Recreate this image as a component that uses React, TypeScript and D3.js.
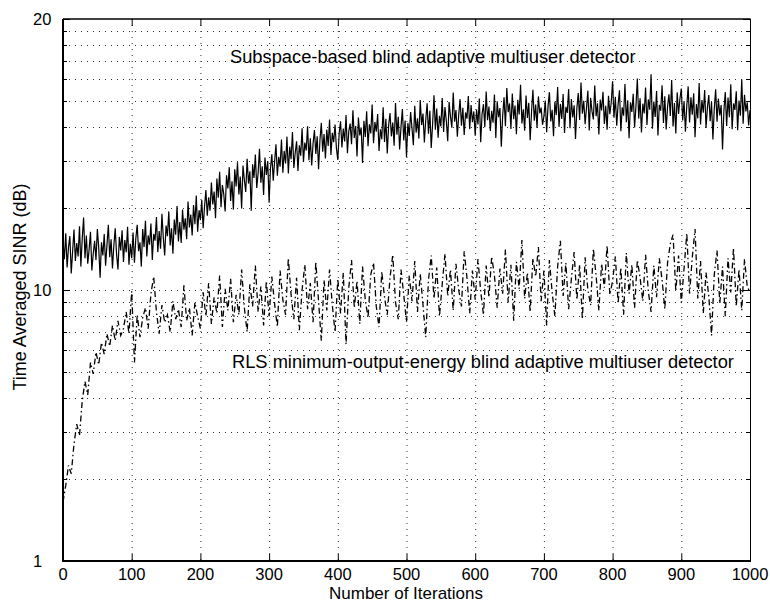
import React from "react";
import * as d3 from "d3";

// ---------- data ----------
// subspace detector: sampled every 2 iterations
const subspaceIter: number[] = d3.range(0, 1001, 2);
const subspaceSINR: number[] = [
  15.1, 13.0, 16.2, 12.1, 14.4, 15.8, 11.5, 13.9, 16.7, 12.8, 14.9, 13.3, 17.2, 12.2, 15.5, 18.5, 13.1, 15.9, 12.5, 14.1, 16.4, 11.8, 13.6, 15.2, 12.9, 16.8, 14.3, 11.1, 15.0, 13.4, 16.1, 12.3, 14.7, 17.4, 13.2, 15.4, 12.0, 14.6, 16.9, 13.5, 11.9, 15.7, 14.0, 16.6, 12.7, 15.3, 13.8, 17.1, 12.4, 14.8,
  13.1, 16.3, 12.6, 15.5, 17.4, 13.9, 15.0, 12.2, 16.8, 14.4, 18.0, 13.3, 15.9, 14.7, 17.6, 12.9, 16.1, 15.2, 18.6, 13.8, 16.5, 14.2, 19.1, 15.6, 13.4, 17.3, 15.8, 19.5, 14.6, 16.9, 13.6, 18.2, 16.0, 20.4, 15.1, 17.8, 14.9, 19.8, 16.7, 18.4, 15.4, 21.2, 17.0, 19.0, 15.9, 20.6, 17.5, 22.3, 16.4, 19.7,
  18.1, 21.5, 16.9, 20.3, 23.4, 18.8, 22.0, 19.6, 24.9, 20.7, 23.1, 18.4, 25.8, 21.9, 27.3, 20.2, 24.4, 22.6, 19.5, 26.5, 23.7, 28.4, 21.3, 25.2, 19.8, 27.9, 24.1, 29.6, 22.5, 26.2, 20.0, 28.8, 25.4, 23.0, 30.5, 24.7, 27.4, 19.6, 29.1, 25.9, 31.6, 23.8, 27.0, 33.2, 24.9, 28.6, 22.4, 30.8, 26.6, 29.9,
  21.0, 28.1, 31.7, 25.3, 29.8, 34.5, 26.4, 31.0, 28.5, 35.9, 27.1, 32.6, 29.3, 36.8, 26.9, 33.8, 30.4, 38.3, 28.2, 32.1, 35.4, 27.5, 34.2, 31.3, 39.5, 29.7, 35.0, 32.7, 40.2, 30.1, 36.3, 28.8, 34.7, 38.9, 31.8, 36.9, 27.9, 35.7, 41.4, 32.4, 37.6, 30.6, 39.1, 34.0, 42.6, 31.5, 38.0, 35.1, 40.8, 33.3,
  30.2, 37.9, 41.9, 33.6, 39.4, 35.3, 44.2, 32.0, 38.6, 41.1, 34.5, 46.0, 36.4, 40.3, 31.1, 43.3, 37.2, 39.8, 29.4, 42.1, 36.7, 45.7, 33.9, 40.9, 37.8, 48.4, 34.8, 41.7, 38.4, 44.6, 32.6, 39.2, 36.0, 47.2, 35.2, 42.8, 31.9, 40.5, 45.0, 36.9, 41.5, 34.1, 49.0, 37.4, 43.6, 33.0, 40.0, 46.5, 35.6, 42.2,
  30.9, 41.3, 37.0, 45.4, 39.5, 34.2, 47.8, 38.1, 43.0, 36.2, 50.2, 40.6, 44.8, 35.0, 42.5, 48.9, 37.7, 45.9, 33.4, 41.0, 52.3, 39.0, 46.7, 36.5, 43.9, 40.1, 51.1, 38.3, 47.3, 42.0, 35.4, 49.4, 43.7, 39.7, 53.5, 41.8, 46.1, 36.8, 44.3, 50.6, 40.4, 47.0, 37.3, 45.2, 42.9, 52.0, 39.2, 48.1, 41.6, 45.6,
  37.1, 46.3, 40.8, 50.9, 35.1, 44.6, 48.5, 39.9, 54.0, 42.3, 47.5, 38.6, 45.8, 41.4, 52.6, 36.4, 49.7, 43.4, 46.9, 33.8, 44.1, 51.4, 40.2, 55.6, 45.3, 48.8, 39.3, 53.1, 42.7, 47.9, 37.6, 50.3, 44.4, 57.2, 41.2, 46.4, 38.7, 52.2, 43.1, 49.1, 35.7, 45.5, 54.8, 42.1, 48.3, 39.6, 51.8, 44.9, 47.1, 40.7,
  43.6, 50.0, 38.2, 47.6, 53.7, 41.9, 46.2, 36.9, 49.5, 44.2, 56.1, 40.0, 48.6, 42.8, 52.9, 38.0, 47.4, 45.0, 55.1, 39.5, 50.7, 43.3, 48.0, 36.1, 46.8, 53.3, 42.4, 58.3, 44.7, 49.9, 40.9, 47.0, 54.4, 38.8, 51.2, 45.7, 42.6, 56.8, 43.8, 48.9, 37.5, 50.4, 46.0, 53.9, 41.0, 47.8, 39.0, 52.1, 44.5, 49.2,
  58.9, 43.2, 51.6, 40.4, 48.4, 54.6, 38.5, 47.2, 44.0, 57.6, 41.6, 50.1, 36.3, 49.3, 45.4, 53.0, 39.8, 47.7, 60.3, 42.9, 51.0, 38.1, 48.7, 44.8, 55.9, 40.6, 50.5, 46.3, 62.5, 39.4, 49.6, 43.5, 54.2, 37.2, 48.2, 45.9, 57.0, 41.3, 51.9, 39.1, 47.5, 52.7, 43.9, 59.5, 40.1, 49.0, 37.8, 53.6, 44.6, 50.8,
  55.4, 42.2, 49.8, 38.4, 47.9, 56.4, 41.5, 51.4, 44.3, 53.2, 36.6, 48.5, 43.0, 58.0, 40.8, 50.2, 45.1, 54.7, 39.6, 47.1, 52.4, 42.0, 49.4, 35.9, 46.6, 55.0, 41.8, 50.9, 44.1, 48.1, 33.0, 45.8, 53.8, 40.3, 51.3, 43.4, 57.4, 39.2, 48.8, 46.2, 54.1, 38.9, 50.0, 44.0, 59.8, 41.1, 52.5, 45.6, 49.3, 40.5, 46.1,
];

// RLS minimum-output-energy detector: sampled every 4 iterations
const rlsIter: number[] = d3.range(0, 1001, 4);
const rlsSINR: number[] = [
  1.65, 1.9, 2.25, 2.1, 2.7, 3.2, 2.9, 3.9, 4.6, 4.1, 5.4, 4.9, 5.9, 5.3, 6.4, 5.8, 6.9, 6.2, 7.4, 6.5, 7.7, 6.8, 7.2, 8.3, 6.9,
  9.9, 5.4, 8.1, 6.7, 7.9, 8.6, 7.2, 9.7, 11.2, 8.3, 6.9, 8.8, 7.6, 8.1, 7.0, 9.1, 7.8, 8.5, 7.3, 10.4, 7.7, 8.6, 6.8, 9.0, 8.0,
  7.2, 9.8, 8.0, 10.6, 7.5, 9.4, 8.2, 11.3, 7.3, 10.1, 8.4, 11.0, 7.6, 9.6, 8.1, 11.9, 8.6, 7.0, 10.5, 8.7, 12.3, 8.3, 10.3, 7.4, 10.8,
  8.0, 11.2, 8.9, 7.3, 11.8, 9.2, 8.1, 13.1, 9.6, 7.8, 11.1, 7.1, 10.0, 12.4, 8.5, 10.6, 7.6, 12.7, 9.1, 6.5, 10.9, 8.4, 11.9, 8.8, 7.0,
  11.0, 8.2, 11.6, 6.3, 10.2, 12.9, 8.6, 10.8, 7.5, 12.2, 9.2, 7.9, 11.4, 12.6, 8.7, 7.3, 11.7, 9.4, 8.1, 11.1, 13.5, 9.0, 7.8, 11.9, 9.6,
  7.6, 11.3, 9.1, 12.8, 8.3, 11.5, 8.8, 6.7, 10.9, 13.4, 9.3, 12.1, 8.0, 10.5, 13.6, 9.5, 11.9, 8.4, 12.5, 10.0, 8.7, 13.9, 11.1, 8.2, 11.8,
  9.2, 13.0, 9.9, 8.1, 12.3, 9.4, 13.3, 11.3, 8.6, 12.0, 9.7, 14.1, 9.0, 12.4, 7.7, 12.7, 10.1, 15.3, 9.3, 11.6, 8.3, 13.1, 11.2, 14.4, 9.1,
  11.8, 7.4, 12.9, 9.8, 8.0, 12.2, 15.2, 9.5, 12.6, 8.5, 11.0, 13.8, 9.2, 12.4, 7.8, 13.2, 10.0, 8.8, 14.2, 11.3, 8.4, 12.5, 10.2, 14.6, 9.6,
  10.8, 13.3, 8.9, 12.1, 8.1, 13.7, 9.7, 12.4, 8.6, 12.9, 11.1, 9.1, 13.5, 9.9, 8.3, 12.3, 9.4, 13.1, 10.9, 8.5, 12.6, 14.8, 16.0, 9.9, 13.4,
  9.0, 12.0, 16.2, 9.7, 13.2, 16.8, 9.3, 12.8, 8.2, 11.6, 9.5, 6.8, 11.4, 14.0, 8.9, 12.2, 8.0, 13.1, 9.8, 14.3, 8.7, 11.9, 8.4, 13.0, 10.3, 9.8,
];

const xTicks: number[] = [0, 100, 200, 300, 400, 500, 600, 700, 800, 900, 1000];
const yTickValues: number[] = [1, 10, 100];
const yTickLabels: string[] = ["1", "10", "20"];
const yMinorValues: number[] = [2, 3, 4, 5, 6, 7, 8, 9, 20, 30, 40, 50, 60, 70, 80, 90];

const xLabel = "Number of Iterations";
const yLabel = "Time Averaged SINR (dB)";
const subspaceLabel = "Subspace-based blind adaptive multiuser detector";
const rlsLabel = "RLS minimum-output-energy blind adaptive multiuser detector";

// ---------- layout ----------
const W = 770;
const H = 604;
const left = 63;
const right = 750;
const top = 19;
const bottom = 561;
const FONT = "'Liberation Sans', Arial, Helvetica, sans-serif";

export default function App() {
  const x = d3.scaleLinear().domain([0, 1000]).range([left, right]);
  const y = d3.scaleLog().domain([1, 100]).range([bottom, top]);

  const makeLine = (iters: number[]) =>
    d3
      .line<number>()
      .defined((_, i) => i < iters.length)
      .x((_, i) => x(iters[i]))
      .y((d) => y(d));

  const gridX = xTicks.filter((t) => t !== 0 && t !== 1000);
  const gridY = [...yMinorValues, 10];

  return (
    <svg
      width={W}
      height={H}
      style={{ position: "absolute", left: 0, top: 0, background: "#fff" }}
      fontFamily={FONT}
    >
      <rect x={0} y={0} width={W} height={H} fill="#fff" />
      {/* grid */}
      <g stroke="#333" strokeWidth={1} strokeDasharray="1,5" fill="none">
        {gridX.map((t) => (
          <line key={"gx" + t} x1={x(t) + 0.5} x2={x(t) + 0.5} y1={top} y2={bottom} />
        ))}
        {gridY.map((t) => (
          <line key={"gy" + t} x1={left} x2={right} y1={Math.round(y(t)) + 0.5} y2={Math.round(y(t)) + 0.5} />
        ))}
      </g>

      {/* series */}
      <path d={makeLine(subspaceIter)(subspaceSINR) || ""} fill="none" stroke="#000" strokeWidth={1.2} />
      <path
        d={makeLine(rlsIter)(rlsSINR) || ""}
        fill="none"
        stroke="#000"
        strokeWidth={1.3}
        strokeDasharray="6,3,1.5,3"
      />

      {/* ticks */}
      <g stroke="#000" strokeWidth={1}>
        {xTicks.map((t) => (
          <g key={"xt" + t}>
            <line x1={x(t) + 0.5} x2={x(t) + 0.5} y1={bottom} y2={bottom - 7} />
            <line x1={x(t) + 0.5} x2={x(t) + 0.5} y1={top} y2={top + 7} />
          </g>
        ))}
        {yMinorValues.map((t) => (
          <g key={"ym" + t}>
            <line x1={left} x2={left + 4} y1={Math.round(y(t)) + 0.5} y2={Math.round(y(t)) + 0.5} />
            <line x1={right} x2={right - 4} y1={Math.round(y(t)) + 0.5} y2={Math.round(y(t)) + 0.5} />
          </g>
        ))}
        {yTickValues.map((t) => (
          <g key={"yt" + t}>
            <line x1={left} x2={left + 7} y1={Math.round(y(t)) + 0.5} y2={Math.round(y(t)) + 0.5} />
            <line x1={right} x2={right - 7} y1={Math.round(y(t)) + 0.5} y2={Math.round(y(t)) + 0.5} />
          </g>
        ))}
      </g>

      {/* axes box */}
      <line x1={left} x2={right + 0.5} y1={top} y2={top} stroke="#000" strokeWidth={1.5} />
      <line x1={right + 0.5} x2={right + 0.5} y1={top} y2={bottom} stroke="#000" strokeWidth={1} />
      <line x1={left} x2={left} y1={top} y2={bottom + 1} stroke="#000" strokeWidth={2} />
      <line x1={left - 1} x2={right + 1} y1={bottom} y2={bottom} stroke="#000" strokeWidth={2} />

      {/* tick labels */}
      <g fontSize={16.5} fill="#000">
        {xTicks.map((t) => (
          <text key={"xl" + t} x={x(t)} y={580} textAnchor="middle">
            {t}
          </text>
        ))}
        {yTickValues.map((t, i) => (
          <text key={"yl" + t} x={33} y={y(t) + 6} textAnchor="start">
            {yTickLabels[i]}
          </text>
        ))}
      </g>

      {/* axis labels */}
      <text x={406} y={599} textAnchor="middle" fontSize={17} fill="#000">
        {xLabel}
      </text>
      <text
        transform={`translate(26,287) rotate(-90)`}
        textAnchor="middle"
        fontSize={18}
        fill="#000"
      >
        {yLabel}
      </text>

      {/* annotations */}
      <text x={230} y={63} fontSize={18.3} fill="#000">
        {subspaceLabel}
      </text>
      <text x={232} y={368} fontSize={18.3} fill="#000">
        {rlsLabel}
      </text>
    </svg>
  );
}
